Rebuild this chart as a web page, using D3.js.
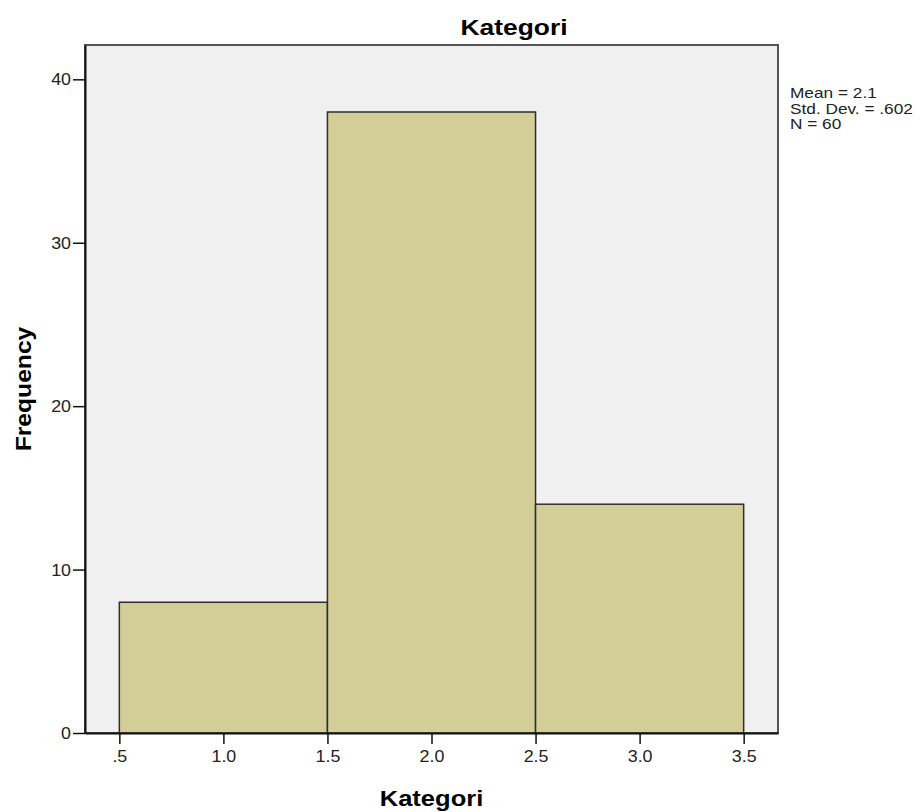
<!DOCTYPE html>
<html>
<head>
<meta charset="utf-8">
<script src="https://cdn.jsdelivr.net/npm/d3@7"></script>
<style>
  body { margin: 0; background: white; }
  text { font-family: Arial, "Liberation Sans", sans-serif; }
</style>
</head>
<body>
<div id="wrapper"></div>
<script>
// histogram bins (edges) and counts
const binEdges = [0.5, 1.5, 2.5, 3.5];
const binCounts = [8, 38, 14];
const xTickValues = [0.5, 1.0, 1.5, 2.0, 2.5, 3.0, 3.5];
const yTickValues = [0, 10, 20, 30, 40];
const statLines = ["Mean = 2.1", "Std. Dev. = .602", "N = 60"];
const chartTitle = "Kategori";
const xLabel = "Kategori";
const yLabel = "Frequency";

// SPSS output text is a bit wider than plain Arial
function widen(sel, k) {
    sel.each(function () {
        const w = this.getComputedTextLength();
        d3.select(this).attr("textLength", w * k).attr("lengthAdjust", "spacingAndGlyphs");
    });
}

function buildPlot() {
    var dimension = {
        width: 924,
        height: 812,
        margin: { top: 45, left: 85, bottom: 79, right: 146 }
    };
    dimension.boundedWidth = dimension.width - dimension.margin.left - dimension.margin.right;
    dimension.boundedHeight = dimension.height - dimension.margin.top - dimension.margin.bottom;

    const svg = d3.select("#wrapper").append("svg")
        .attr("width", dimension.width)
        .attr("height", dimension.height);

    const bounded = svg.append("g")
        .attr("transform", `translate(${dimension.margin.left},${dimension.margin.top})`);

    const xScaler = d3.scaleLinear()
        .domain([0.335, 3.665])
        .range([0, dimension.boundedWidth]);
    const yScaler = d3.scaleLinear()
        .domain([0, 42.1])
        .range([dimension.boundedHeight, 0]);

    // background / frame
    bounded.append("rect")
        .attr("x", 0).attr("y", 0)
        .attr("width", dimension.boundedWidth)
        .attr("height", dimension.boundedHeight)
        .attr("fill", "#f0f0f0")
        .attr("stroke", "#555")
        .attr("stroke-width", 2);

    const bins = binCounts.map((c, i) => ({ x0: binEdges[i], x1: binEdges[i + 1], count: c }));

    bounded.selectAll("rect.bar")
        .data(bins)
        .join("rect")
        .attr("class", "bar")
        .attr("x", d => xScaler(d.x0))
        .attr("width", d => xScaler(d.x1) - xScaler(d.x0))
        .attr("y", d => yScaler(d.count))
        .attr("height", d => yScaler(0) - yScaler(d.count))
        .attr("fill", "#d3ce97")
        .attr("stroke", "#2e2e2e")
        .attr("stroke-width", 1.5);

    // axes
    const yAxis = bounded.append("g")
        .call(d3.axisLeft(yScaler).tickValues(yTickValues).tickSize(12).tickSizeOuter(0)
            .tickPadding(2).tickFormat(d3.format("d")));
    const xAxis = bounded.append("g")
        .attr("transform", `translate(0,${dimension.boundedHeight})`)
        .call(d3.axisBottom(xScaler).tickValues(xTickValues).tickSize(11).tickSizeOuter(0).tickPadding(6)
            .tickFormat(d => d === 0.5 ? ".5" : d.toFixed(1)));

    [xAxis, yAxis].forEach(a => {
        a.select(".domain").attr("stroke", "#111").attr("stroke-width", 2);
        a.selectAll(".tick line").attr("stroke", "#111").attr("stroke-width", 1.5);
        a.selectAll(".tick text").style("font-size", "17px").attr("fill", "#222");
        widen(a.selectAll(".tick text"), 1.05);
    });

    // title
    svg.append("text")
        .attr("x", 514)
        .attr("y", 35)
        .attr("text-anchor", "middle")
        .style("font-size", "22px")
        .style("font-weight", "bold")
        .text(chartTitle)
        .call(widen, 1.2);

    // axis labels
    svg.append("text")
        .attr("x", dimension.margin.left + dimension.boundedWidth / 2)
        .attr("y", 806)
        .attr("text-anchor", "middle")
        .style("font-size", "22px")
        .style("font-weight", "bold")
        .text(xLabel)
        .call(widen, 1.16);

    svg.append("text")
        .attr("transform", `translate(31,${dimension.margin.top + dimension.boundedHeight / 2}) rotate(-90)`)
        .attr("text-anchor", "middle")
        .style("font-size", "22px")
        .style("font-weight", "bold")
        .text(yLabel)
        .call(widen, 1.12);

    // stats box
    svg.append("g")
        .selectAll("text")
        .data(statLines)
        .join("text")
        .attr("x", 790)
        .attr("y", (d, i) => 98 + i * 15.5)
        .style("font-size", "15px")
        .attr("fill", "#222")
        .text(d => d)
        .call(widen, 1.15);
}

buildPlot();
</script>
</body>
</html>
